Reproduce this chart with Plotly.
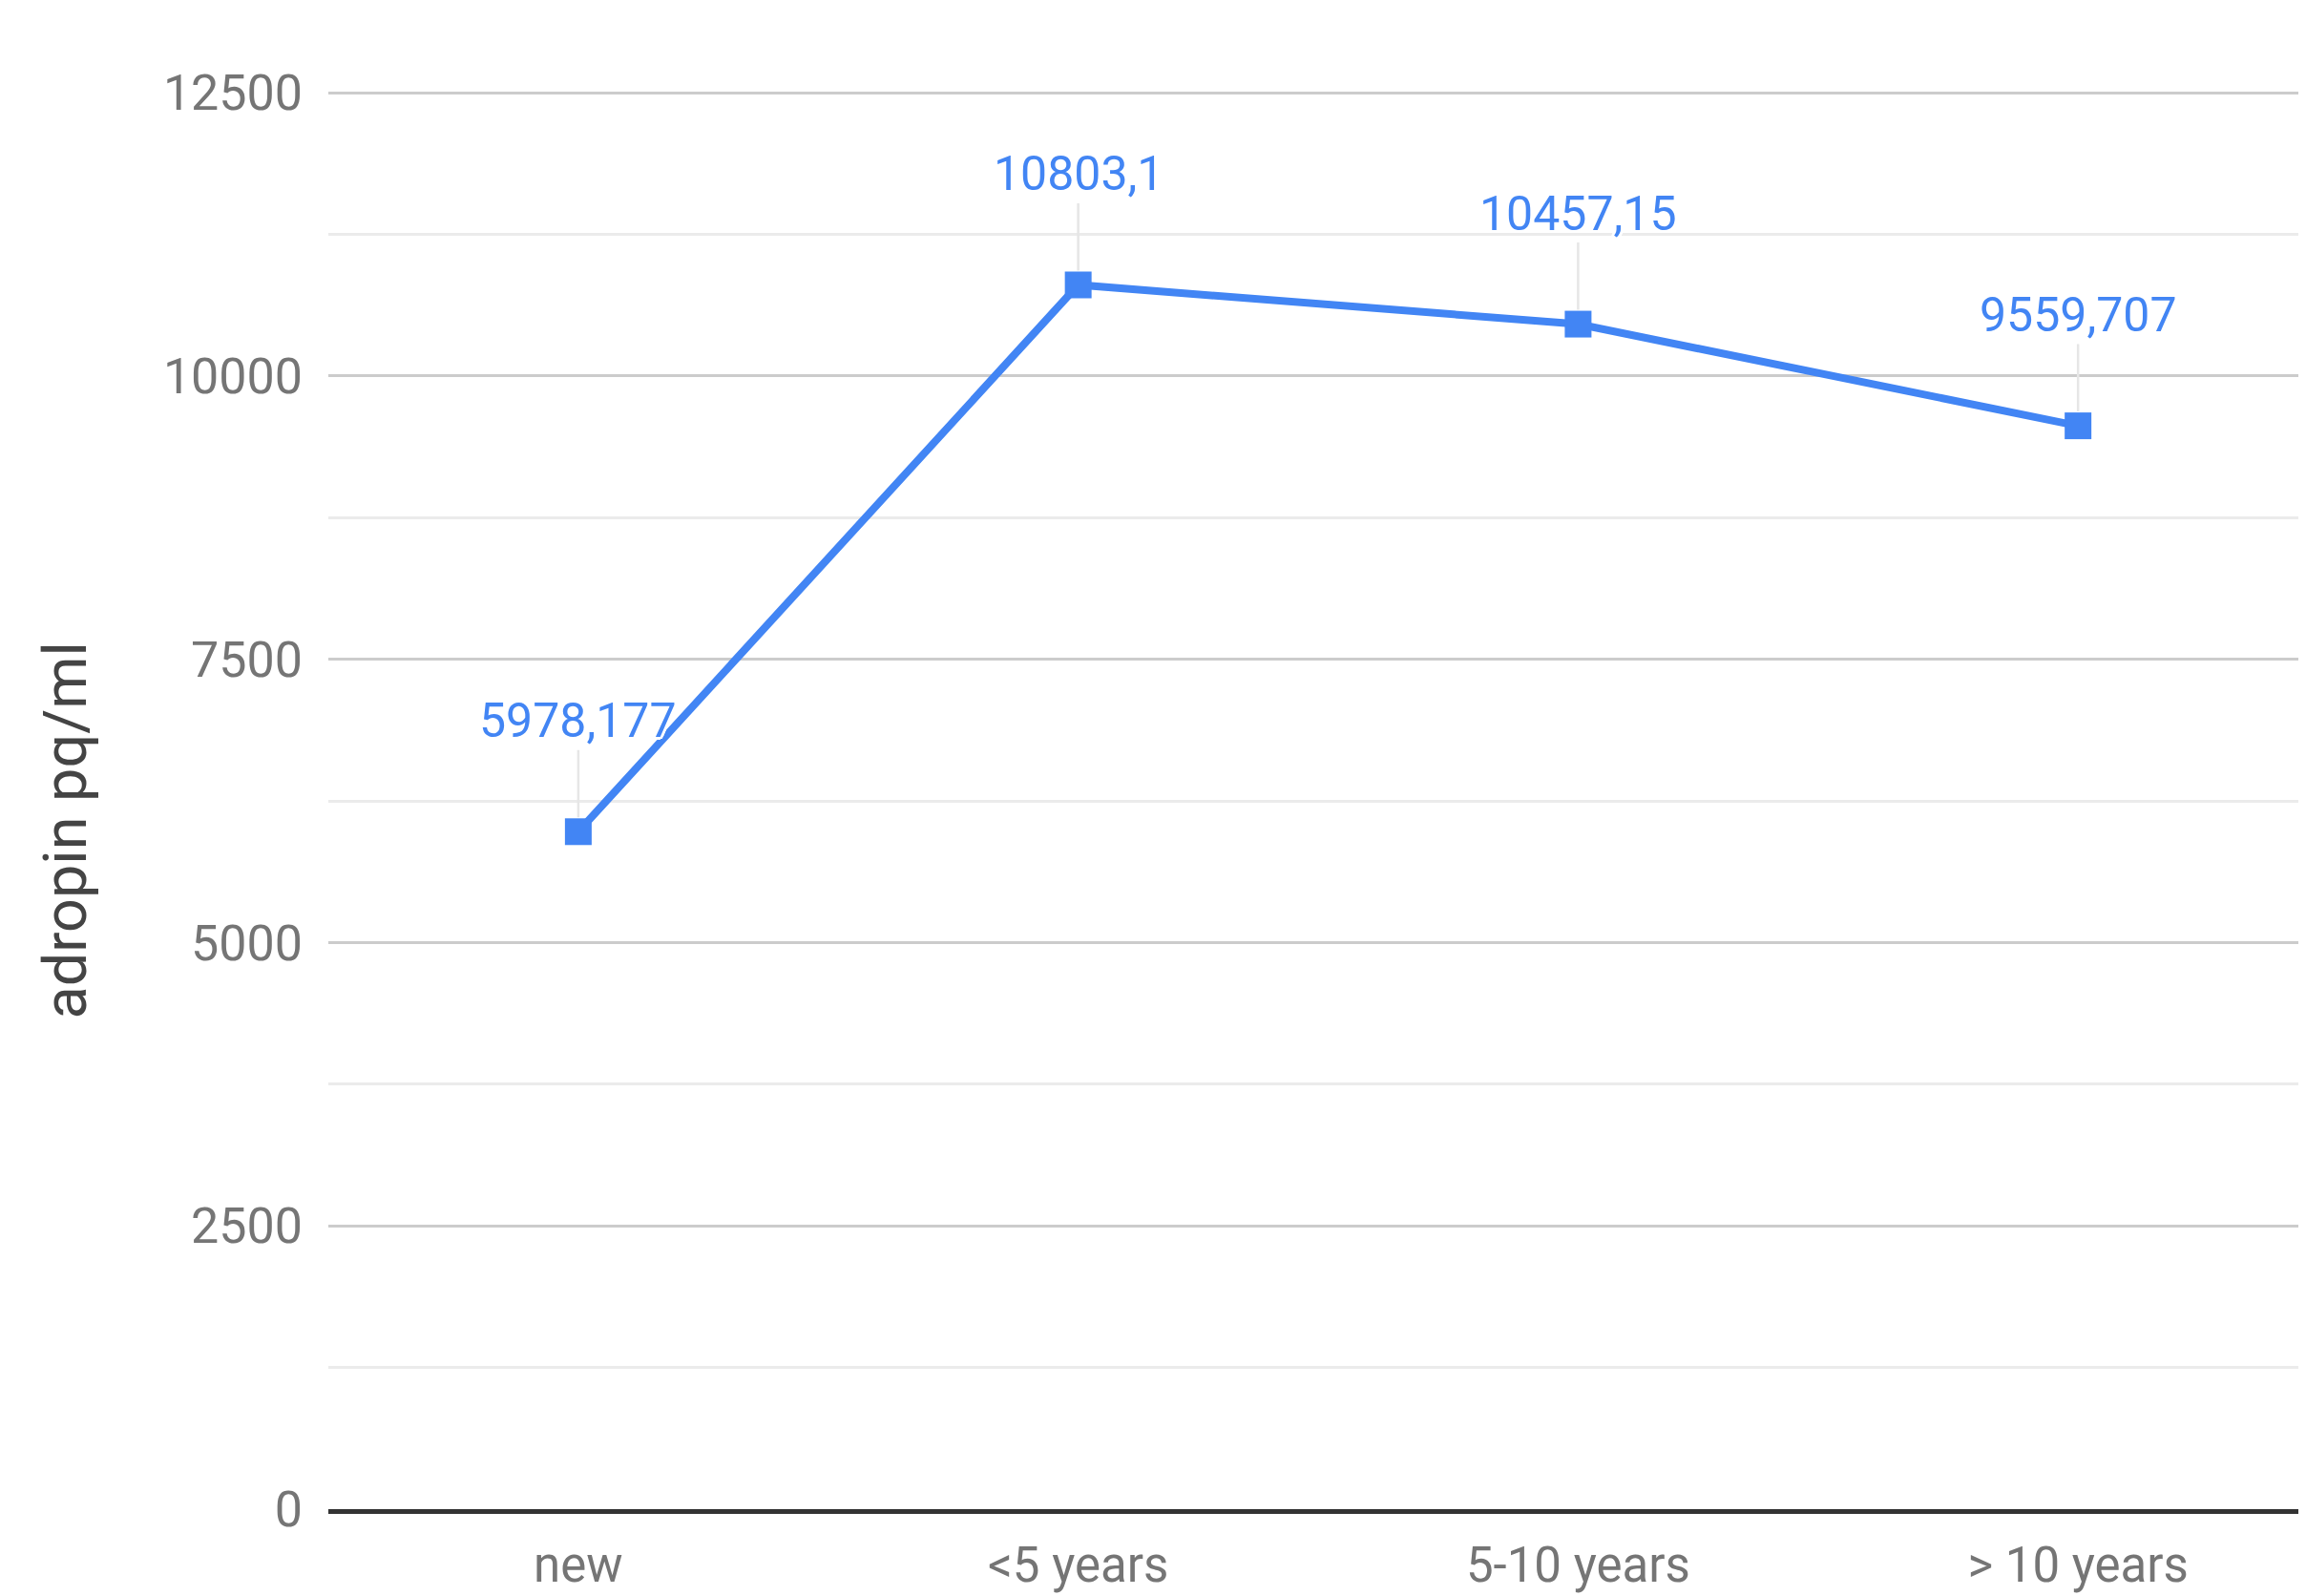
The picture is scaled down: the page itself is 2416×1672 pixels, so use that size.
import plotly.graph_objects as go

categories = ["new", "<5 years", "5-10 years", "> 10 years"]
values = [5978.177, 10803.1, 10457.15, 9559.707]
y_tickvals = [0, 2500, 5000, 7500, 10000, 12500]
y_ticktext = ["0", "2500", "5000", "7500", "10000", "12500"]
y_title = "adropin pq/ml"

BLUE = "#4285F4"
FONT = "Roboto, sans-serif"

fig = go.Figure()
fig.add_trace(go.Scatter(
    x=list(range(len(categories))), y=values, mode="lines+markers",
    line=dict(color=BLUE, width=8),
    marker=dict(symbol="square", size=28, color=BLUE),
    cliponaxis=False, showlegend=False, hoverinfo="skip",
))

halo = "3px 0 0 #fff, -3px 0 0 #fff, 0 3px 0 #fff, 0 -3px 0 #fff, 2px 2px 0 #fff, -2px -2px 0 #fff, 2px -2px 0 #fff, -2px 2px 0 #fff"
for i, v in enumerate(values):
    fig.add_annotation(
        x=i, y=v, xref="x", yref="y",
        text=str(v).replace(".", ","),
        showarrow=True, arrowhead=0, arrowwidth=2.5, arrowcolor="#e6e6e6",
        ax=0, ay=-116, standoff=15,
        font=dict(family=FONT, size=50, color=BLUE, shadow=halo),
    )

# y-axis title placed as an annotation for precise positioning
fig.add_annotation(
    xref="paper", yref="paper", x=0, y=0.4775, xanchor="center", yanchor="middle",
    xshift=-276, showarrow=False, textangle=-90,
    text=y_title, font=dict(family=FONT, size=63, color="#444444"),
)

fig.update_layout(
    width=2408, height=1664,
    margin=dict(l=336, r=0, t=85, b=91),
    paper_bgcolor="white", plot_bgcolor="white",
    xaxis=dict(
        range=[-0.5, 3.456], tickmode="array",
        tickvals=list(range(len(categories))), ticktext=categories,
        showgrid=False, zeroline=False, automargin=False,
        showline=True, linecolor="#333333", linewidth=5,
        ticks="", ticklabelstandoff=10,
        tickfont=dict(family=FONT, size=51, color="#757575"),
    ),
    yaxis=dict(
        range=[0, 12534], tickmode="array", tickvals=y_tickvals, ticktext=y_ticktext,
        showgrid=True, gridcolor="#cccccc", gridwidth=3,
        minor=dict(dtick=1250, tick0=0, showgrid=True, gridcolor="#ebebeb", gridwidth=3),
        zeroline=False, showline=False, ticks="", ticklabelstandoff=26,
        automargin=False,
        tickfont=dict(family=FONT, size=52, color="#757575"),
    ),
)

fig.write_html("out.html")
